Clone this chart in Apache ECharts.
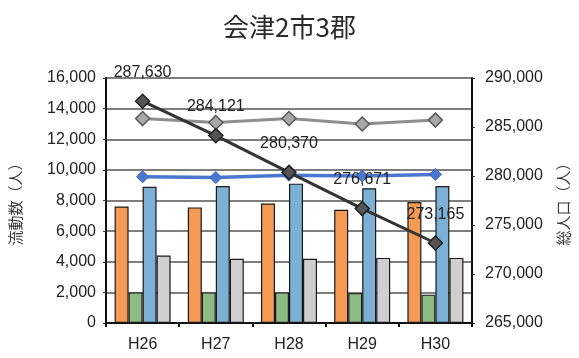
<!DOCTYPE html>
<html>
<head>
<meta charset="utf-8">
<script src="https://cdn.jsdelivr.net/npm/echarts@6/dist/echarts.min.js"></script>
<style>
html,body{margin:0;padding:0;background:#fff;}
#c{width:579px;height:358px;}
</style>
</head>
<body>
<div id="c"></div>
<script>
const categories = ['H26', 'H27', 'H28', 'H29', 'H30'];
const orangeBars = [7600, 7550, 7800, 7400, 7900];
const greenBars = [2000, 2000, 2000, 1950, 1850];
const blueBars = [8900, 8950, 9100, 8800, 8950];
const grayBars = [4400, 4200, 4200, 4250, 4250];
const blueLine = [9550, 9500, 9650, 9600, 9700];
const grayLine = [13350, 13100, 13350, 13000, 13250];
const totalPopulation = [287630, 284121, 280370, 276671, 273165];
const leftTicks = { min: 0, max: 16000, interval: 2000 };
const rightTicks = { min: 265000, max: 290000, interval: 5000 };

const FONT = '"Liberation Sans", "Noto Sans CJK JP", sans-serif';
const fmt = v => String(v).replace(/\B(?=(\d{3})+(?!\d))/g, ',');

const chart = echarts.init(document.getElementById('c'));
const barStyle = c => ({ color: c, borderColor: '#1a1a1a', borderWidth: 1.2 });

chart.setOption({
  backgroundColor: '#fff',
  animation: false,
  textStyle: { fontFamily: FONT },
  title: {
    text: '会津2市3郡',
    left: 'center',
    top: 9,
    textStyle: { fontFamily: '"Noto Sans CJK JP", sans-serif', fontSize: 26, fontWeight: 'normal', color: '#2a2a2a' }
  },
  grid: { left: 102, right: 103, top: 78, bottom: 35 },
  xAxis: {
    type: 'category',
    data: categories,
    axisLine: { lineStyle: { color: '#111', width: 2 } },
    axisTick: { show: true, length: 4, lineStyle: { color: '#111', width: 2 } },
    axisLabel: { color: '#222', fontSize: 16, margin: 14, fontFamily: FONT }
  },
  yAxis: [
    {
      type: 'value',
      min: leftTicks.min, max: leftTicks.max, interval: leftTicks.interval,
      name: '流動数（人）',
      nameLocation: 'middle',
      nameRotate: 90,
      nameGap: 83,
      nameTextStyle: { fontFamily: '"Noto Sans CJK JP", sans-serif', fontSize: 15, color: '#333' },
      axisLine: { show: true, lineStyle: { color: '#111', width: 2 } },
      axisTick: { show: true, length: 3, lineStyle: { color: '#333' } },
      axisLabel: { color: '#222', fontSize: 16, margin: 10, formatter: v => fmt(v) },
      splitLine: { show: true, lineStyle: { color: '#7e7e7e', width: 2 } }
    },
    {
      type: 'value',
      min: rightTicks.min, max: rightTicks.max, interval: rightTicks.interval,
      name: '総人口（人）',
      nameLocation: 'middle',
      nameRotate: 90,
      nameGap: 84,
      nameTextStyle: { fontFamily: '"Noto Sans CJK JP", sans-serif', fontSize: 15, color: '#333' },
      axisLine: { show: true, lineStyle: { color: '#111', width: 2 } },
      axisTick: { show: true, length: 3, lineStyle: { color: '#333' } },
      axisLabel: { color: '#222', fontSize: 16, margin: 13, formatter: v => fmt(v) },
      splitLine: { show: false }
    }
  ],
  series: [
    { type: 'bar', data: orangeBars, barWidth: 14, barGap: '0%', itemStyle: barStyle('#f59a55') },
    { type: 'bar', data: greenBars, barWidth: 14, barGap: '0%', itemStyle: barStyle('#8dbb85') },
    { type: 'bar', data: blueBars, barWidth: 14, barGap: '0%', itemStyle: barStyle('#7cb0d4') },
    { type: 'bar', data: grayBars, barWidth: 14, barGap: '0%', itemStyle: barStyle('#cfcfcf') },
    {
      type: 'line', data: blueLine, yAxisIndex: 0,
      symbol: 'diamond', symbolSize: 12,
      lineStyle: { color: '#4a78d0', width: 3.5 },
      itemStyle: { color: '#4a78d0', borderColor: '#3a62b8', borderWidth: 1 },
      z: 5
    },
    {
      type: 'line', data: grayLine, yAxisIndex: 0,
      symbol: 'diamond', symbolSize: 14,
      lineStyle: { color: '#8e8e8e', width: 3 },
      itemStyle: { color: '#a8a8a8', borderColor: '#5a5a5a', borderWidth: 1.5 },
      z: 5
    },
    {
      type: 'line', data: totalPopulation, yAxisIndex: 1,
      symbol: 'diamond', symbolSize: 14,
      lineStyle: { color: '#333', width: 3 },
      itemStyle: { color: '#555', borderColor: '#222', borderWidth: 1.5 },
      label: {
        show: true, position: 'top', distance: 13,
        color: '#222', fontSize: 16, fontFamily: FONT,
        formatter: p => fmt(p.value)
      },
      z: 6
    }
  ]
});
</script>
</body>
</html>
